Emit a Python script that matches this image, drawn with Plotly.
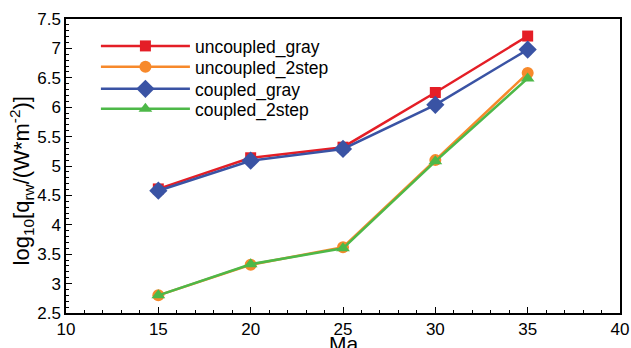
import plotly.graph_objects as go

mach = [15, 20, 25, 30, 35]
uncoupled_gray = [4.61, 5.14, 5.32, 6.25, 7.21]
uncoupled_2step = [2.80, 3.32, 3.62, 5.10, 6.58]
coupled_gray = [4.58, 5.09, 5.29, 6.04, 6.98]
coupled_2step = [2.80, 3.33, 3.60, 5.08, 6.49]

series_names = ["uncoupled_gray", "uncoupled_2step", "coupled_gray", "coupled_2step"]
series_vals = [uncoupled_gray, uncoupled_2step, coupled_gray, coupled_2step]
colors = ["#e41e26", "#f7892b", "#3a53a4", "#4db848"]
symbols = ["square", "circle", "diamond", "triangle-up"]
sizes = [11, 12, 14, 12]

y_tickvals = [2.5, 3, 3.5, 4, 4.5, 5, 5.5, 6, 6.5, 7, 7.5]
y_ticktext = ["2.5", "3", "3.5", "4", "4.5", "5", "5.5", "6", "6.5", "7", "7.5"]
x_tickvals = [10, 15, 20, 25, 30, 35, 40]
x_ticktext = ["10", "15", "20", "25", "30", "35", "40"]

legend_ids = ["legend", "legend2", "legend3", "legend4"]
legend_rows_y = [0.908, 0.837, 0.762, 0.694]

fig = go.Figure()
for name, vals, c, s, sz, lid in zip(series_names, series_vals, colors, symbols, sizes, legend_ids):
    fig.add_trace(go.Scatter(
        x=mach, y=vals, name=name, mode="lines+markers",
        line=dict(color=c, width=2.5),
        marker=dict(symbol=s, size=sz, color=c),
        legend=lid,
    ))

font = dict(family="Liberation Sans, Arial, sans-serif", color="black")
legend_common = dict(x=0.054, xanchor="left", yanchor="middle",
                     bgcolor="rgba(0,0,0,0)", font=dict(size=17.5),
                     itemwidth=89, tracegroupgap=0)
layout_legends = {lid: dict(legend_common, y=ly) for lid, ly in zip(legend_ids, legend_rows_y)}

fig.update_layout(
    width=631, height=348,
    margin=dict(l=66, r=11, t=19, b=35, autoexpand=False),
    paper_bgcolor="white", plot_bgcolor="white",
    font=dict(**font, size=17),
    showlegend=True,
    **layout_legends,
    xaxis=dict(range=[10, 40], tickvals=x_tickvals, ticktext=x_ticktext,
               automargin=False,
               ticks="inside", ticklen=6, tickwidth=1, tickcolor="black",
               showline=True, linecolor="black", linewidth=1.5, mirror=True,
               showgrid=False, zeroline=False,
               minor=dict(ticks="inside", ticklen=3, dtick=1, tickcolor="black", showgrid=False),
               tickfont=dict(size=17)),
    yaxis=dict(range=[2.5, 7.5], tickvals=y_tickvals, ticktext=y_ticktext,
               automargin=False,
               ticks="inside", ticklen=6, tickwidth=1, tickcolor="black",
               showline=True, linecolor="black", linewidth=1.5, mirror=True,
               showgrid=False, zeroline=False,
               minor=dict(ticks="inside", ticklen=3, dtick=0.1, tickcolor="black", showgrid=False),
               tickfont=dict(size=17)),
    annotations=[
        dict(text="Ma", x=0.5, y=0, xref="paper", yref="paper",
             xanchor="center", yanchor="top", yshift=-17, showarrow=False,
             font=dict(size=21)),
        dict(text="log<sub>10</sub>[q<sub>rw</sub>/(W*m<sup>-2</sup>)]",
             x=-0.08, y=0.45, xref="paper", yref="paper",
             xanchor="center", yanchor="middle", textangle=-90, showarrow=False,
             font=dict(size=22)),
    ],
)

fig.write_html("out.html")
